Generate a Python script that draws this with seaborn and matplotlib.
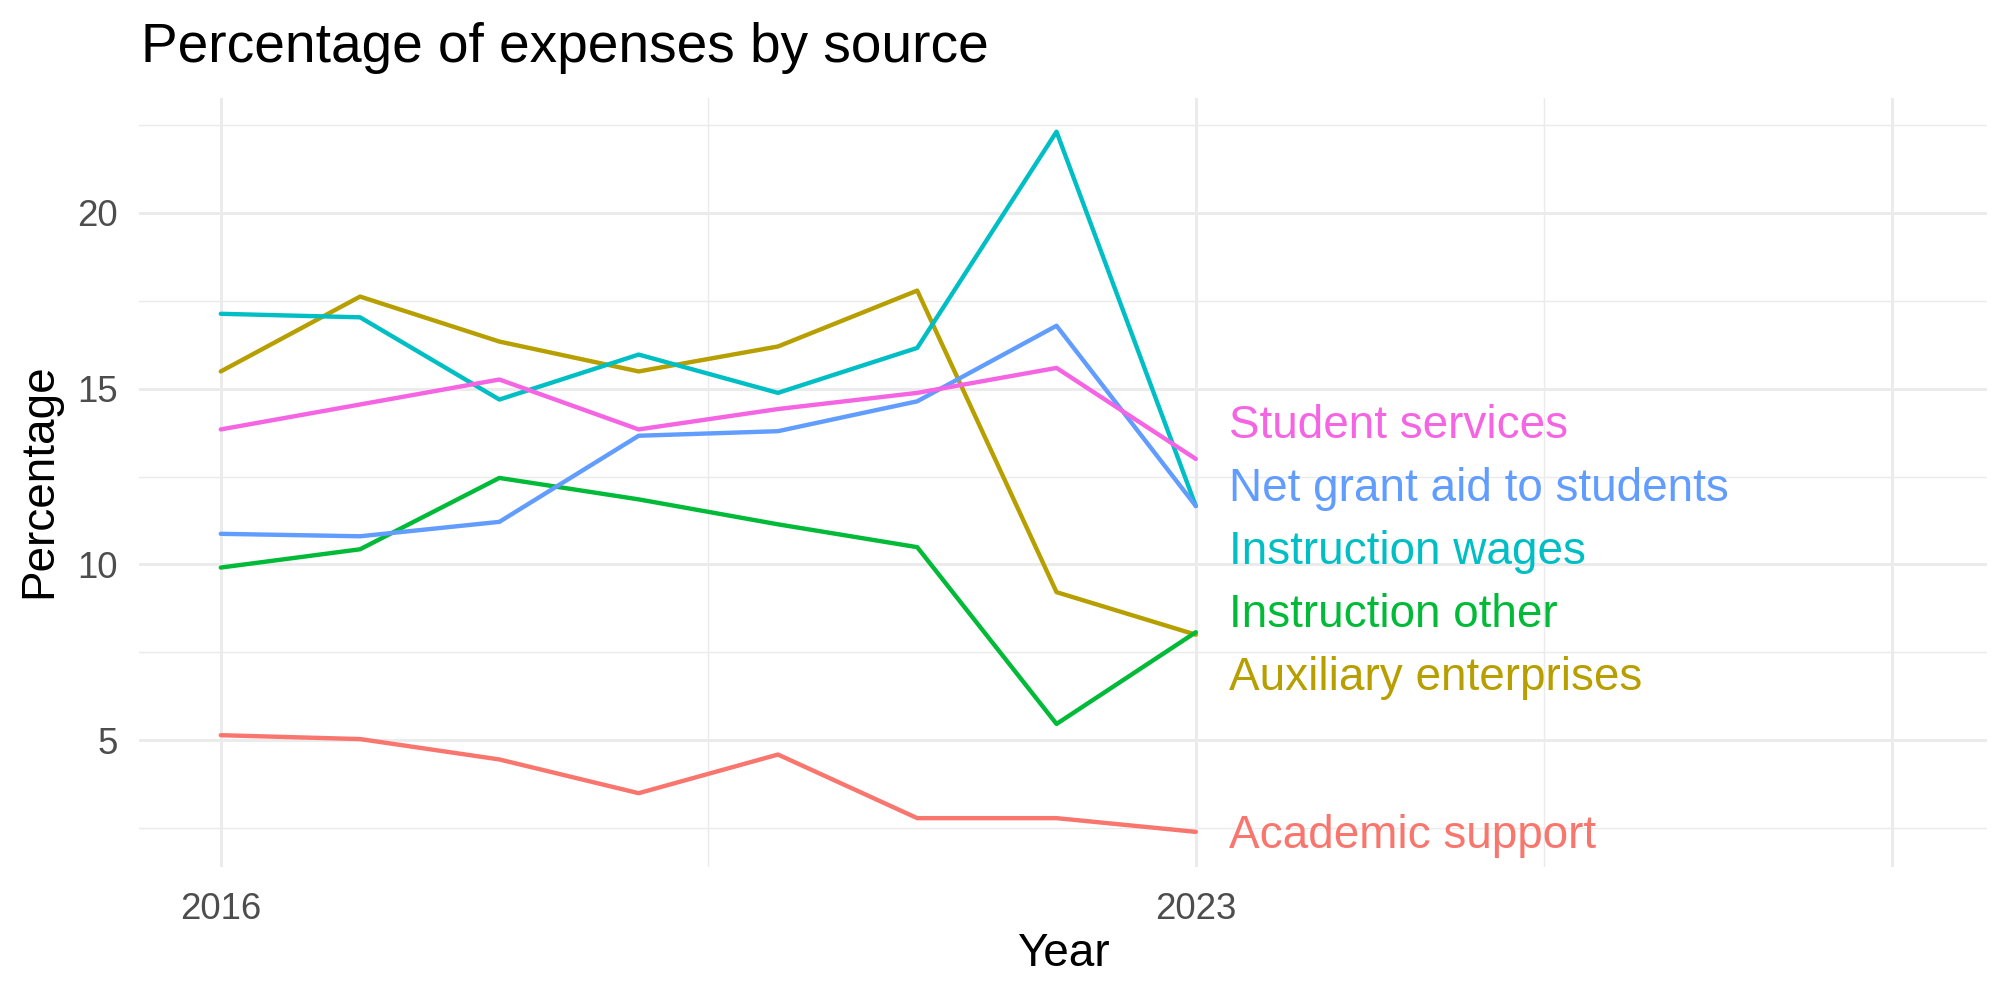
import pandas as pd
import seaborn as sns
import matplotlib.pyplot as plt

# expense shares (%) by source
years = [2016, 2017, 2018, 2019, 2020, 2021, 2022, 2023]
academic_support = [5.14, 5.03, 4.45, 3.49, 4.59, 2.78, 2.78, 2.39]
auxiliary_enterprises = [15.49, 17.62, 16.34, 15.49, 16.20, 17.79, 9.21, 8.00]
instruction_other = [9.91, 10.43, 12.46, 11.85, 11.14, 10.49, 5.46, 8.07]
instruction_wages = [17.13, 17.03, 14.69, 15.97, 14.88, 16.16, 22.31, 11.66]
net_grant_aid = [10.87, 10.80, 11.21, 13.66, 13.79, 14.64, 16.79, 11.66]
student_services = [13.84, 14.55, 15.26, 13.84, 14.42, 14.88, 15.59, 13.00]

sources = ['Academic support', 'Auxiliary enterprises', 'Instruction other',
           'Instruction wages', 'Net grant aid to students', 'Student services']
series = [academic_support, auxiliary_enterprises, instruction_other,
          instruction_wages, net_grant_aid, student_services]
colors = ['#F8766D', '#B79F00', '#00BA38', '#00BFC4', '#619CFF', '#F564E3']

df = pd.DataFrame({
    'Year': years * len(sources),
    'Percentage': [v for s in series for v in s],
    'Source': [name for name in sources for _ in years],
})


def spread_labels(values, gap):
    # simple 1-d repel: group overlapping labels and stack them round their mean
    order = sorted(range(len(values)), key=lambda i: values[i])
    groups = [[i] for i in order]
    pos = {i: values[i] for i in order}
    changed = True
    while changed:
        changed = False
        for g in groups:
            centre = sum(values[i] for i in g) / len(g)
            for k, i in enumerate(g):
                pos[i] = centre + (k - (len(g) - 1) / 2) * gap
        for a in range(len(groups) - 1):
            if pos[groups[a + 1][0]] - pos[groups[a][-1]] < gap - 1e-9:
                groups[a] = groups[a] + groups[a + 1]
                del groups[a + 1]
                changed = True
                break
    return [pos[i] for i in range(len(values))]


sns.set_theme(style='white')
plt.rcParams['font.family'] = ['Liberation Sans', 'DejaVu Sans']
plt.rcParams['text.color'] = 'black'

fig = plt.figure(figsize=(20 / 3, 10 / 3), dpi=300)
ax = fig.add_axes([0.0693, 0.133, 0.9242, 0.769])

sns.lineplot(data=df, x='Year', y='Percentage', hue='Source', hue_order=sources,
             palette=colors, linewidth=1.05, legend=False, ax=ax)

# end-of-line labels
ends = [s[-1] for s in series]
label_y = spread_labels(ends, 1.79)
for name, c, y in zip(sources, colors, label_y):
    ax.annotate(name, xy=(years[-1] + 0.24, y), xytext=(0, -3.9), textcoords='offset points',
                ha='left', va='baseline', color=c, fontsize=11)

ax.set_xlim(2015.41, 2028.68)
ax.set_ylim(1.39, 23.27)
ax.set_xticks([2016, 2023, 2028], ['2016', '2023', ''])
ax.set_xticks([2019.5, 2025.5], minor=True)
ax.set_yticks([5, 10, 15, 20])
ax.set_yticks([2.5, 7.5, 12.5, 17.5, 22.5], minor=True)
ax.grid(which='major', color='#EBEBEB', linewidth=0.7)
ax.grid(which='minor', color='#EBEBEB', linewidth=0.35)
ax.set_axisbelow(True)
for sp in ax.spines.values():
    sp.set_visible(False)
ax.tick_params(which='both', length=0, labelsize=8.8, labelcolor='#4D4D4D')
ax.tick_params(axis='x', pad=6)
ax.tick_params(axis='y', pad=5)

ax.set_xlabel('')
ax.set_ylabel('')
fig.text(0.5315, 0.034, 'Year', ha='center', va='baseline', fontsize=11, color='black')
fig.text(0.0195, 0.519, 'Percentage', rotation=90, ha='center', va='center', fontsize=11, color='black')
fig.text(0.0705, 0.938, 'Percentage of expenses by source', ha='left', va='baseline',
         fontsize=13.2, color='black')

fig.savefig('out.png', dpi=300)
